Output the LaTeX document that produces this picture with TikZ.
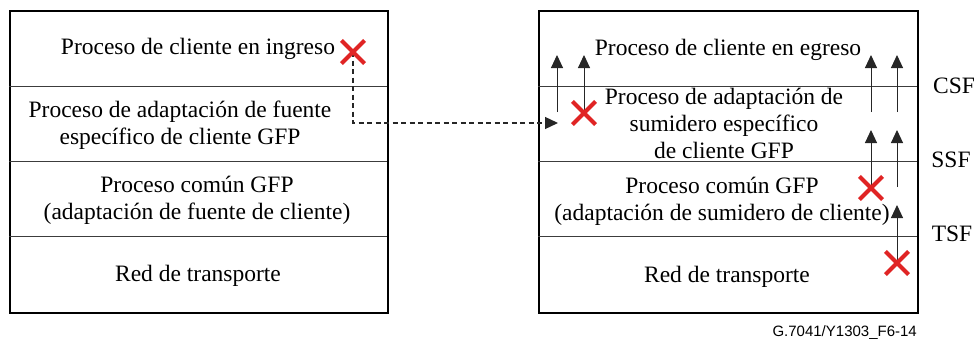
\documentclass[tikz,border=0pt]{standalone}
\usepackage{fontspec}
\setmainfont{Liberation Serif}
\newfontfamily\footfont{Liberation Sans}
\usetikzlibrary{arrows.meta,shapes.misc}
\definecolor{xred}{RGB}{224,36,36}
\definecolor{divgray}{RGB}{60,60,60}
\begin{document}
\begin{tikzpicture}[x=1pt,y=-1pt,
  lbl/.style={anchor=base,align=center,inner sep=0pt,font=\fontsize{23.5}{27}\selectfont},
  outer/.style={draw=black,line width=2pt},
  divider/.style={draw=divgray,line width=0.9pt},
  uparrow/.style={draw=black!85,line width=1pt,-{Triangle[length=13pt,width=12pt]}},
  dasharrow/.style={draw=black!85,line width=1.3pt,dash pattern=on 5pt off 3.5pt,-{Triangle[length=13pt,width=12pt]}},
  xmark/.style={cross out,draw=xred,line width=4.2pt,minimum size=19pt,inner sep=0pt}]
\useasboundingbox (0,0) rectangle (977,340);
% boxes
\node[outer,minimum width=378pt,minimum height=302pt,inner sep=0pt,anchor=north west] (L) at (9,10) {};
\node[outer,minimum width=379pt,minimum height=302pt,inner sep=0pt,anchor=north west] (R) at (538,10) {};
\foreach \yy in {86,161,236}{
  \draw[divider] (9,\yy) -- (387,\yy);
  \draw[divider] (538,\yy) -- (917,\yy);
}
% left texts (multi-line nodes: base = last line's baseline)
\node[lbl] (l1) at (198,54) {Proceso de cliente en ingreso};
\node[lbl] (l2) at (180,144) {Proceso de adaptación de fuente\\específico de cliente GFP};
\node[lbl] (l3) at (197,219) {Proceso común GFP\\(adaptación de fuente de cliente)};
\node[lbl] (l4) at (198,281) {Red de transporte};
% right texts
\node[lbl] (r1) at (728,55) {Proceso de cliente en egreso};
\node[lbl] (r2) at (724,158) {Proceso de adaptación de\\sumidero específico\\de cliente GFP};
\node[lbl] (r3) at (722,220) {Proceso común GFP\\(adaptación de sumidero de cliente)};
\node[lbl] (r4) at (727,282) {Red de transporte};
% side labels
\node[lbl] (csf) at (954,93) {CSF};
\node[lbl] (ssf) at (951,167) {SSF};
\node[lbl] (tsf) at (952,241) {TSF};
% coordinates
\coordinate (pxl) at (353,52);
\coordinate (pxa) at (584,113);
\coordinate (pxb) at (871,188);
\coordinate (pxc) at (897,263);
\coordinate (dend) at (558,123);
\coordinate (s1) at (557,112);
\coordinate (t1) at (557,55);
\coordinate (t2) at (584,55);
\coordinate (s3) at (871,112);
\coordinate (t3) at (871,55);
\coordinate (s4) at (897,112);
\coordinate (t4) at (897,55);
\coordinate (t5) at (871,130);
\coordinate (s6) at (897,187);
\coordinate (t6) at (897,130);
\coordinate (t7) at (897,205);
% connectors
\draw[dasharrow] (pxl) |- (dend);
\draw[uparrow] (s1) -- (t1);
\draw[uparrow] (pxa) -- (t2);
\draw[uparrow] (s3) -- (t3);
\draw[uparrow] (s4) -- (t4);
\draw[uparrow] (pxb) -- (t5);
\draw[uparrow] (s6) -- (t6);
\draw[uparrow] (pxc) -- (t7);
% X marks
\node[xmark] (xl) at (pxl) {};
\node[xmark] (xa) at (pxa) {};
\node[xmark] (xb) at (pxb) {};
\node[xmark] (xc) at (pxc) {};
% footer
\node[anchor=base east,inner sep=0pt,font=\footfont\fontsize{15}{18}\selectfont] (foot) at (917,336) {G.7041/Y1303\_F6-14};
\end{tikzpicture}
\end{document}
